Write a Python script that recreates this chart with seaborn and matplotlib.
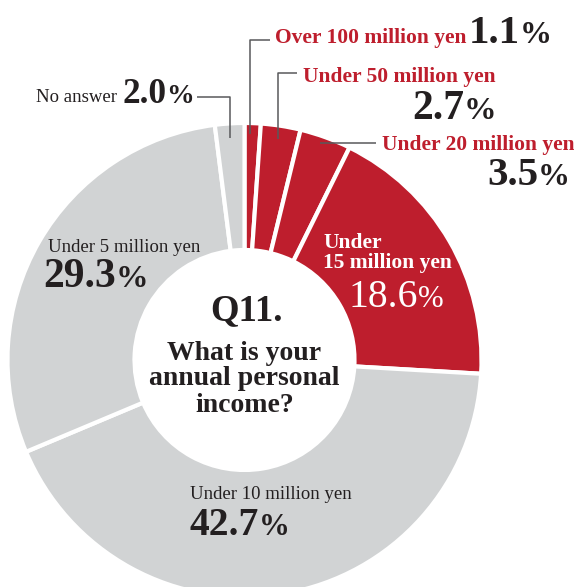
import matplotlib
matplotlib.use("Agg")
import matplotlib.pyplot as plt
import seaborn as sns

# Survey results: annual personal income (share of respondents, %)
categories = [
    "Over 100 million yen",
    "Under 50 million yen",
    "Under 20 million yen",
    "Under 15 million yen",
    "Under 10 million yen",
    "Under 5 million yen",
    "No answer",
]
shares = [1.1, 2.7, 3.5, 18.6, 42.7, 29.3, 2.0]
value_labels = ["1.1", "2.7", "3.5", "18.6", "42.7", "29.3", "2.0"]

RED = "#BE1E2D"
GREY = "#D1D3D4"
INK = "#231F20"
LEADER = "#58595B"
slice_colors = [RED, RED, RED, RED, GREY, GREY, GREY]

sns.set_theme(style="white")
plt.rcParams["font.family"] = ["Liberation Serif", "DejaVu Serif"]

W, H = 574, 587
fig = plt.figure(figsize=(W / 100, H / 100), dpi=100)
ax = fig.add_axes([0, 0, 1, 1])


def Y(y_top):
    """Convert a top-down pixel row to the axes' bottom-up coordinate."""
    return H - y_top


# Donut
ax.pie(
    shares,
    colors=slice_colors,
    startangle=90,
    counterclock=False,
    center=(244.5, Y(360)),
    radius=237,
    frame=True,
    wedgeprops=dict(width=127, edgecolor="white", linewidth=3.0),
)
ax.set_xlim(0, W)
ax.set_ylim(0, H)
ax.set_aspect("equal")
ax.set_axis_off()

renderer = fig.canvas.get_renderer()


def pct(x, y_top, value, size, color=INK, weight="bold"):
    """Draw a value with a smaller percent sign right after it."""
    t = ax.text(x, Y(y_top), value, fontsize=size, color=color,
                fontweight=weight, ha="left", va="baseline")
    bb = t.get_window_extent(renderer)
    x_end = ax.transData.inverted().transform((bb.x1, bb.y0))[0]
    ax.text(x_end, Y(y_top), "%", fontsize=size * 0.78, color=color,
            fontweight=weight, ha="left", va="baseline")


def label(x, y_top, text, size, color=INK, weight="normal", ha="left"):
    ax.text(x, Y(y_top), text, fontsize=size, color=color,
            fontweight=weight, ha=ha, va="baseline")


def leader(points):
    xs = [p[0] for p in points]
    ys = [Y(p[1]) for p in points]
    ax.plot(xs, ys, color=LEADER, lw=1.1, solid_capstyle="butt")


# Over 100 million yen
leader([(270, 40), (250, 40), (250, 134)])
label(275, 43, categories[0], 15.5, RED, "bold")
pct(469, 43, value_labels[0], 29.5)

# Under 50 million yen
leader([(297, 73), (278, 73), (278, 139)])
label(303, 82, categories[1], 15.5, RED, "bold")
pct(412, 119, value_labels[1], 30)

# Under 20 million yen
leader([(320, 143), (376, 143)])
label(382, 150, categories[2], 15.5, RED, "bold")
pct(487, 185, value_labels[2], 29.5)

# Under 15 million yen (inside the slice)
label(323, 248, "Under", 15.5, "white", "bold")
label(323, 268, "15 million yen", 15.5, "white", "bold")
pct(349, 307, value_labels[3], 28.5, "white", "normal")

# Under 10 million yen
label(190, 499, categories[4], 13.5, INK)
pct(190, 535, value_labels[4], 28.5)

# Under 5 million yen
label(48, 252, categories[5], 13.5, INK)
pct(43, 287, value_labels[5], 30)

# No answer
leader([(197, 97), (230, 97), (230, 138)])
label(36, 102, categories[6], 13.5, INK)
pct(122, 103, value_labels[6], 25.5)

# Question in the hole
label(246.5, 320, "Q11.", 26.5, INK, "bold", ha="center")
label(244.5, 360, "What is your", 20, INK, "bold", ha="center")
label(244.5, 385, "annual personal", 20, INK, "bold", ha="center")
label(244.5, 412, "income?", 20, INK, "bold", ha="center")

fig.savefig("out.png", dpi=100)
